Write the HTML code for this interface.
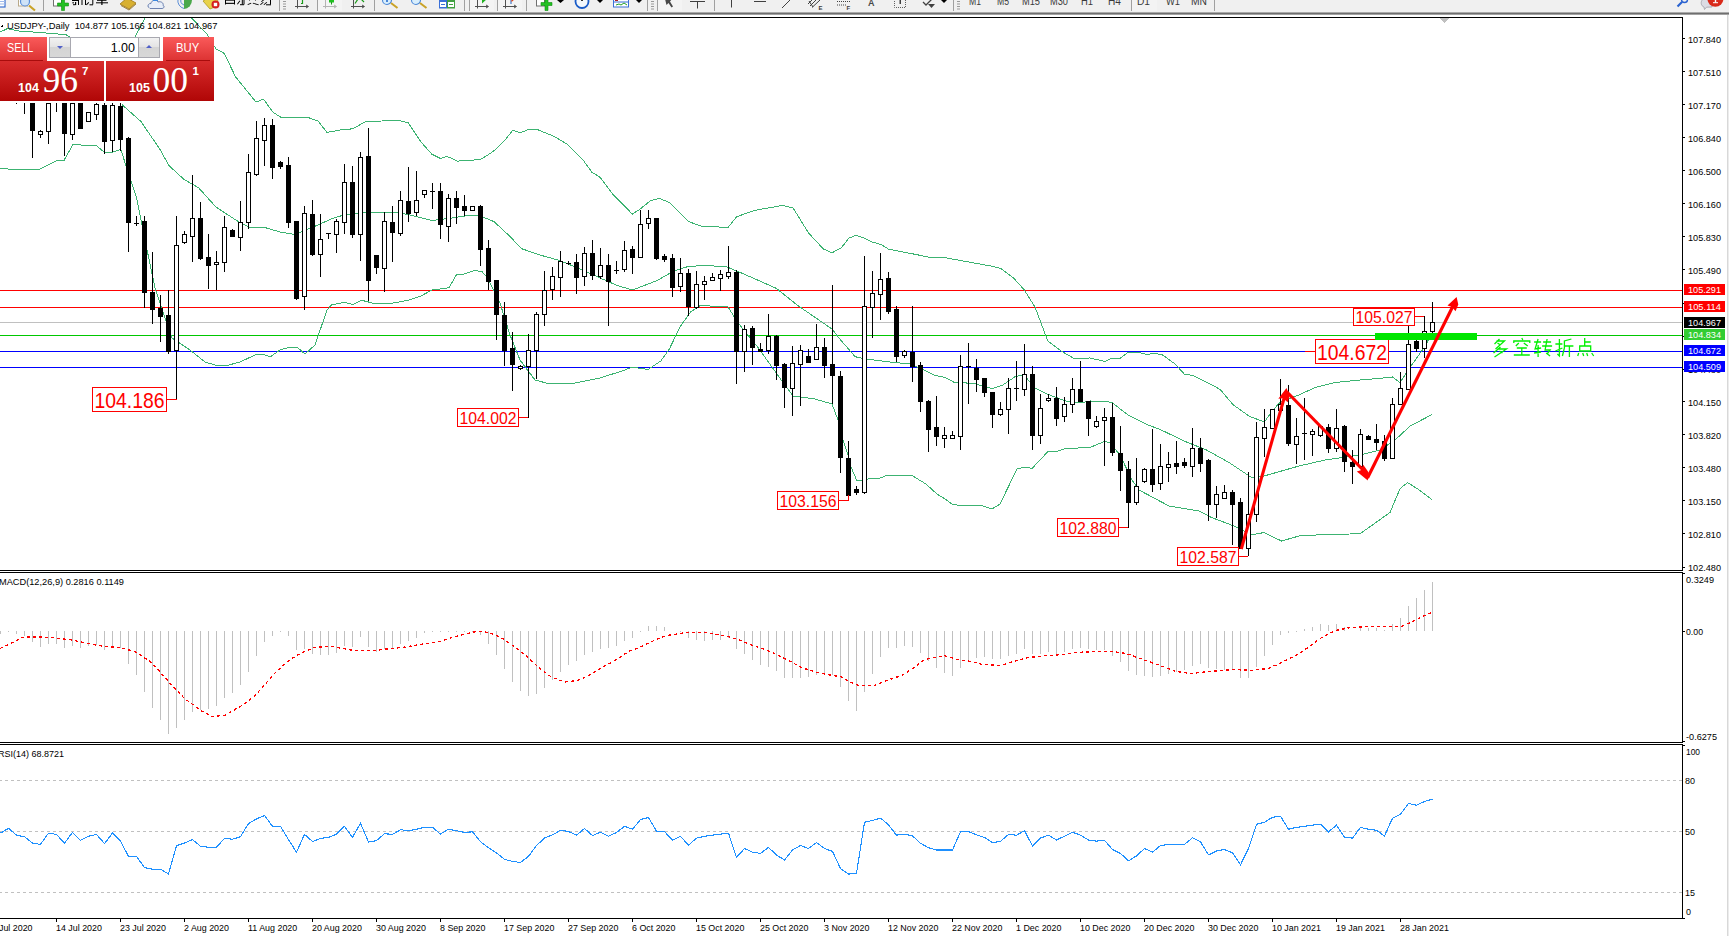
<!DOCTYPE html>
<html><head><meta charset="utf-8">
<style>
html,body{margin:0;padding:0;}
body{width:1729px;height:936px;overflow:hidden;background:#fff;position:relative;font-family:"Liberation Sans",sans-serif;}
#tb{position:absolute;left:0;top:0;width:1729px;height:13px;background:#f0f0f0;}
#tbb{position:absolute;left:0;top:12px;width:1729px;height:3px;background:linear-gradient(#c8c8c8,#6e6e6e 50%,#bdbdbd);}
#rs{position:absolute;left:1727px;top:15px;width:2px;height:921px;background:#ececec;border-left:1px solid #d8d8d8;box-sizing:border-box;}
svg{position:absolute;left:0;top:0;}
.panel{position:absolute;}
</style></head><body>
<div id="tb"></div><div id="tbb"></div><div id="rs"></div>
<svg width="1729" height="936" viewBox="0 0 1729 936" shape-rendering="crispEdges" font-family="Liberation Sans, sans-serif">
<defs>
<clipPath id="cm"><rect x="0" y="18" width="1682" height="552"/></clipPath>
<clipPath id="cmacd"><rect x="0" y="573" width="1682" height="169"/></clipPath>
<clipPath id="crsi"><rect x="0" y="745" width="1682" height="173"/></clipPath>
</defs>
<g clip-path="url(#cm)">
<rect x="0" y="290" width="1682" height="1" fill="#ff0000"/>
<rect x="0" y="307" width="1682" height="1" fill="#ff0000"/>
<rect x="0" y="322" width="1682" height="1" fill="#c0c0c0"/>
<rect x="0" y="335" width="1682" height="1" fill="#00c800"/>
<rect x="0" y="351" width="1682" height="1" fill="#0000ff"/>
<rect x="0" y="367" width="1682" height="1" fill="#0000ff"/>
<polyline points="0.0,32.0 7.5,28.6 18.7,31.0 37.4,32.3 65.8,34.6 72.0,38.0 134.0,38.5 136.0,35.0 145.7,17.0 190.6,17.0 207.5,34.8 215.9,48.8 224.3,53.4 235.5,76.8 256.0,102.0 263.5,99.2 273.0,112.3 280.4,117.0 300.0,117.0 308.0,117.5 318.0,121.0 327.0,132.4 340.0,130.0 352.7,128.8 365.5,121.7 397.6,120.3 408.3,122.8 421.0,142.0 432.0,154.3 440.5,158.5 447.0,156.4 457.6,161.1 480.0,159.6 487.5,155.3 495.0,150.0 505.0,140.0 513.0,130.0 520.0,133.0 528.6,129.4 537.0,129.4 553.9,136.3 566.5,143.7 583.4,160.5 591.8,172.1 600.2,177.4 612.8,194.2 625.5,206.8 632.2,214.2 640.2,209.0 650.7,200.5 659.2,198.4 669.7,202.6 688.6,221.6 701.3,226.2 728.0,227.4 736.7,216.7 755.0,210.3 782.7,205.4 793.3,208.2 808.3,232.7 823.2,248.8 831.7,253.0 841.4,247.7 849.0,238.0 856.3,235.3 864.0,238.0 871.5,241.8 881.0,244.5 888.6,249.2 911.0,253.5 932.4,257.8 943.0,257.3 992.2,266.3 1000.8,268.5 1013.6,278.1 1024.2,289.8 1035.0,307.0 1047.8,341.0 1060.6,350.7 1073.5,358.2 1080.0,358.2 1090.0,358.0 1100.0,360.3 1104.6,361.5 1111.6,358.3 1120.2,358.3 1128.3,352.2 1138.2,352.2 1146.3,354.3 1155.5,353.5 1162.5,354.9 1175.2,364.1 1184.4,374.2 1192.5,375.3 1209.9,383.8 1220.3,389.6 1233.0,404.6 1249.2,416.2 1264.3,422.0 1272.4,411.0 1280.5,401.7 1300.0,394.5 1315.0,387.5 1335.0,382.5 1360.0,380.0 1375.0,378.8 1392.5,377.0 1400.0,382.5 1410.0,367.5 1425.0,346.2 1432.0,333.0" fill="none" stroke="#3cb371" stroke-width="1" />
<polyline points="121.8,104.5 141.0,121.6 160.0,149.4 168.8,165.4 183.8,179.3 198.7,187.9 216.0,207.1 237.4,221.0 250.0,227.5 263.0,227.0 280.0,232.0 295.0,234.6 312.0,227.5 331.4,219.0 344.4,214.7 363.5,212.6 397.6,212.1 408.3,214.7 432.0,220.5 449.0,218.4 470.5,215.2 481.0,216.2 494.0,221.6 509.0,235.5 521.7,248.7 538.8,254.7 560.2,260.7 581.6,269.7 603.0,279.3 617.8,285.7 632.8,290.0 648.0,284.0 656.5,280.8 673.6,271.2 686.5,267.0 703.5,265.2 727.0,267.0 740.0,272.3 776.2,288.3 797.6,305.4 831.8,328.9 840.3,339.6 855.2,356.7 864.0,358.8 890.0,362.0 910.0,364.0 921.7,368.9 934.5,375.3 945.2,377.4 953.7,382.1 964.4,382.8 975.0,383.8 992.2,388.5 1002.9,384.9 1015.7,376.3 1024.2,375.3 1035.0,388.0 1045.6,393.4 1064.9,400.9 1080.0,403.0 1090.0,401.0 1100.0,401.1 1111.6,402.3 1128.9,415.6 1146.3,424.3 1161.3,430.0 1184.0,441.0 1206.5,450.0 1229.0,462.5 1251.5,477.5 1264.0,476.0 1299.0,466.0 1325.0,460.0 1342.5,457.5 1360.0,455.0 1380.0,450.0 1395.0,440.0 1410.0,426.2 1432.0,414.5" fill="none" stroke="#3cb371" stroke-width="1" />
<polyline points="0.0,168.6 21.4,169.7 38.5,169.7 57.8,160.1 64.2,160.1 72.8,144.7 96.3,145.6 104.8,152.6 113.4,152.0 120.8,149.4 126.2,166.5 136.9,198.6 137.0,200.0 145.0,240.0 155.0,288.0 165.0,318.0 172.0,338.0 178.0,342.0 190.0,350.0 205.0,362.0 215.0,365.0 225.0,366.0 240.0,362.0 255.0,355.0 263.0,354.0 270.0,357.0 280.0,350.0 290.0,347.0 298.0,348.0 305.0,354.0 315.0,345.0 327.0,310.0 331.4,305.0 344.4,302.3 352.7,304.5 361.3,300.2 374.0,303.4 391.4,303.4 408.3,300.2 421.0,296.0 429.7,291.2 432.0,290.0 449.0,287.8 456.6,274.4 464.0,274.0 474.7,270.3 482.2,271.8 487.6,278.2 500.0,303.0 510.0,335.0 520.0,360.0 535.0,380.0 550.0,384.0 575.0,383.0 600.0,378.0 625.0,370.0 632.0,367.0 648.0,369.5 660.8,361.0 669.4,349.0 680.0,326.8 690.7,311.8 700.4,305.4 716.4,306.4 728.0,307.0 737.8,322.5 758.0,347.5 783.0,382.5 793.0,396.0 815.0,399.0 832.0,404.0 838.0,420.0 843.0,440.0 848.0,455.0 851.0,467.0 857.0,481.0 862.0,480.0 868.0,479.0 880.0,478.0 888.0,475.0 893.0,475.0 913.0,476.0 916.0,478.0 926.0,484.0 937.0,494.0 945.0,499.0 952.0,504.0 957.0,505.0 980.0,505.0 992.0,509.0 1000.0,504.0 1017.0,469.0 1025.0,467.0 1032.0,468.5 1048.0,451.5 1055.0,452.0 1066.0,448.5 1090.0,447.5 1105.0,441.2 1110.0,443.0 1120.0,455.0 1132.0,480.0 1139.0,490.0 1169.0,506.0 1199.0,511.0 1211.5,517.5 1234.0,526.0 1251.5,535.0 1264.0,532.5 1281.5,541.0 1299.0,536.0 1325.0,534.5 1360.0,533.8 1390.0,512.5 1400.0,488.8 1407.5,482.5 1417.5,488.8 1432.0,499.5" fill="none" stroke="#3cb371" stroke-width="1" />
<g fill="#000"><rect x="16" y="103" width="1" height="1"/><rect x="24" y="103" width="1" height="11"/><rect x="32" y="103" width="1" height="55"/><rect x="30" y="103" width="5" height="28"/><rect x="40" y="130" width="1" height="8"/><rect x="38" y="131" width="5" height="4"/><rect x="39" y="132" width="3" height="2" fill="#fff"/><rect x="48" y="103" width="1" height="41"/><rect x="46" y="103" width="5" height="29"/><rect x="47" y="104" width="3" height="27" fill="#fff"/><rect x="56" y="103" width="1" height="9"/><rect x="64" y="103" width="1" height="53"/><rect x="62" y="103" width="5" height="31"/><rect x="72" y="103" width="1" height="37"/><rect x="70" y="103" width="5" height="32"/><rect x="71" y="104" width="3" height="30" fill="#fff"/><rect x="80" y="103" width="1" height="26"/><rect x="78" y="103" width="5" height="26"/><rect x="88" y="112" width="1" height="10"/><rect x="86" y="112" width="5" height="10"/><rect x="87" y="113" width="3" height="8" fill="#fff"/><rect x="96" y="103" width="1" height="17"/><rect x="94" y="104" width="5" height="11"/><rect x="95" y="105" width="3" height="9" fill="#fff"/><rect x="104" y="103" width="1" height="51"/><rect x="102" y="105" width="5" height="37"/><rect x="112" y="103" width="1" height="49"/><rect x="110" y="105" width="5" height="36"/><rect x="111" y="106" width="3" height="34" fill="#fff"/><rect x="120" y="103" width="1" height="48"/><rect x="118" y="106" width="5" height="34"/><rect x="128" y="137" width="1" height="115"/><rect x="126" y="138" width="5" height="85"/><rect x="136" y="216" width="1" height="10"/><rect x="134" y="223" width="5" height="1"/><rect x="144" y="216" width="1" height="92"/><rect x="142" y="221" width="5" height="72"/><rect x="152" y="252" width="1" height="72"/><rect x="150" y="292" width="5" height="18"/><rect x="160" y="295" width="1" height="47"/><rect x="158" y="308" width="5" height="9"/><rect x="168" y="290" width="1" height="64"/><rect x="166" y="315" width="5" height="37"/><rect x="176" y="216" width="1" height="183"/><rect x="174" y="245" width="5" height="106"/><rect x="175" y="246" width="3" height="104" fill="#fff"/><rect x="184" y="231" width="1" height="13"/><rect x="182" y="234" width="5" height="9"/><rect x="183" y="235" width="3" height="7" fill="#fff"/><rect x="192" y="175" width="1" height="87"/><rect x="190" y="218" width="5" height="19"/><rect x="191" y="219" width="3" height="17" fill="#fff"/><rect x="200" y="202" width="1" height="58"/><rect x="198" y="218" width="5" height="41"/><rect x="208" y="234" width="1" height="55"/><rect x="206" y="257" width="5" height="9"/><rect x="216" y="251" width="1" height="39"/><rect x="214" y="262" width="5" height="3"/><rect x="215" y="263" width="3" height="1" fill="#fff"/><rect x="224" y="216" width="1" height="56"/><rect x="222" y="227" width="5" height="36"/><rect x="223" y="228" width="3" height="34" fill="#fff"/><rect x="232" y="229" width="1" height="8"/><rect x="230" y="230" width="5" height="7"/><rect x="240" y="201" width="1" height="50"/><rect x="238" y="222" width="5" height="16"/><rect x="239" y="223" width="3" height="14" fill="#fff"/><rect x="248" y="154" width="1" height="75"/><rect x="246" y="172" width="5" height="51"/><rect x="247" y="173" width="3" height="49" fill="#fff"/><rect x="256" y="121" width="1" height="55"/><rect x="254" y="138" width="5" height="37"/><rect x="255" y="139" width="3" height="35" fill="#fff"/><rect x="264" y="118" width="1" height="48"/><rect x="262" y="125" width="5" height="16"/><rect x="263" y="126" width="3" height="14" fill="#fff"/><rect x="272" y="119" width="1" height="60"/><rect x="270" y="125" width="5" height="43"/><rect x="280" y="161" width="1" height="8"/><rect x="278" y="162" width="5" height="5"/><rect x="288" y="157" width="1" height="71"/><rect x="286" y="165" width="5" height="58"/><rect x="296" y="221" width="1" height="79"/><rect x="294" y="221" width="5" height="78"/><rect x="304" y="206" width="1" height="104"/><rect x="302" y="213" width="5" height="84"/><rect x="303" y="214" width="3" height="82" fill="#fff"/><rect x="312" y="200" width="1" height="56"/><rect x="310" y="214" width="5" height="41"/><rect x="320" y="214" width="1" height="63"/><rect x="318" y="239" width="5" height="16"/><rect x="319" y="240" width="3" height="14" fill="#fff"/><rect x="328" y="233" width="1" height="6"/><rect x="326" y="233" width="5" height="1"/><rect x="336" y="219" width="1" height="34"/><rect x="334" y="221" width="5" height="14"/><rect x="335" y="222" width="3" height="12" fill="#fff"/><rect x="344" y="164" width="1" height="70"/><rect x="342" y="182" width="5" height="41"/><rect x="343" y="183" width="3" height="39" fill="#fff"/><rect x="352" y="166" width="1" height="72"/><rect x="350" y="182" width="5" height="53"/><rect x="360" y="152" width="1" height="109"/><rect x="358" y="157" width="5" height="78"/><rect x="359" y="158" width="3" height="76" fill="#fff"/><rect x="368" y="128" width="1" height="173"/><rect x="366" y="156" width="5" height="125"/><rect x="376" y="255" width="1" height="19"/><rect x="374" y="255" width="5" height="13"/><rect x="384" y="212" width="1" height="80"/><rect x="382" y="221" width="5" height="48"/><rect x="383" y="222" width="3" height="46" fill="#fff"/><rect x="392" y="206" width="1" height="56"/><rect x="390" y="222" width="5" height="11"/><rect x="400" y="191" width="1" height="45"/><rect x="398" y="200" width="5" height="34"/><rect x="399" y="201" width="3" height="32" fill="#fff"/><rect x="408" y="167" width="1" height="55"/><rect x="406" y="201" width="5" height="13"/><rect x="416" y="171" width="1" height="45"/><rect x="414" y="200" width="5" height="13"/><rect x="415" y="201" width="3" height="11" fill="#fff"/><rect x="424" y="190" width="1" height="8"/><rect x="422" y="190" width="5" height="5"/><rect x="423" y="191" width="3" height="3" fill="#fff"/><rect x="432" y="183" width="1" height="26"/><rect x="430" y="191" width="5" height="1"/><rect x="440" y="183" width="1" height="56"/><rect x="438" y="191" width="5" height="34"/><rect x="448" y="194" width="1" height="48"/><rect x="446" y="198" width="5" height="29"/><rect x="447" y="199" width="3" height="27" fill="#fff"/><rect x="456" y="191" width="1" height="33"/><rect x="454" y="198" width="5" height="10"/><rect x="464" y="195" width="1" height="21"/><rect x="462" y="206" width="5" height="5"/><rect x="472" y="206" width="1" height="5"/><rect x="470" y="206" width="5" height="5"/><rect x="471" y="207" width="3" height="3" fill="#fff"/><rect x="480" y="205" width="1" height="61"/><rect x="478" y="206" width="5" height="44"/><rect x="488" y="240" width="1" height="50"/><rect x="486" y="248" width="5" height="34"/><rect x="496" y="280" width="1" height="60"/><rect x="494" y="280" width="5" height="35"/><rect x="504" y="302" width="1" height="64"/><rect x="502" y="315" width="5" height="36"/><rect x="512" y="332" width="1" height="59"/><rect x="510" y="348" width="5" height="17"/><rect x="520" y="365" width="1" height="5"/><rect x="518" y="366" width="5" height="3"/><rect x="519" y="367" width="3" height="1" fill="#fff"/><rect x="528" y="334" width="1" height="84"/><rect x="526" y="350" width="5" height="17"/><rect x="527" y="351" width="3" height="15" fill="#fff"/><rect x="536" y="312" width="1" height="67"/><rect x="534" y="314" width="5" height="37"/><rect x="535" y="315" width="3" height="35" fill="#fff"/><rect x="544" y="271" width="1" height="55"/><rect x="542" y="290" width="5" height="25"/><rect x="543" y="291" width="3" height="23" fill="#fff"/><rect x="552" y="267" width="1" height="33"/><rect x="550" y="276" width="5" height="14"/><rect x="551" y="277" width="3" height="12" fill="#fff"/><rect x="560" y="251" width="1" height="46"/><rect x="558" y="261" width="5" height="17"/><rect x="559" y="262" width="3" height="15" fill="#fff"/><rect x="568" y="261" width="1" height="4"/><rect x="566" y="263" width="5" height="1"/><rect x="576" y="254" width="1" height="40"/><rect x="574" y="262" width="5" height="16"/><rect x="584" y="247" width="1" height="39"/><rect x="582" y="253" width="5" height="24"/><rect x="583" y="254" width="3" height="22" fill="#fff"/><rect x="592" y="240" width="1" height="40"/><rect x="590" y="253" width="5" height="23"/><rect x="600" y="248" width="1" height="31"/><rect x="598" y="265" width="5" height="12"/><rect x="599" y="266" width="3" height="10" fill="#fff"/><rect x="608" y="254" width="1" height="72"/><rect x="606" y="265" width="5" height="17"/><rect x="616" y="261" width="1" height="13"/><rect x="614" y="270" width="5" height="1"/><rect x="624" y="241" width="1" height="31"/><rect x="622" y="250" width="5" height="20"/><rect x="623" y="251" width="3" height="18" fill="#fff"/><rect x="632" y="246" width="1" height="28"/><rect x="630" y="249" width="5" height="9"/><rect x="640" y="210" width="1" height="48"/><rect x="638" y="224" width="5" height="34"/><rect x="639" y="225" width="3" height="32" fill="#fff"/><rect x="648" y="210" width="1" height="19"/><rect x="646" y="218" width="5" height="6"/><rect x="647" y="219" width="3" height="4" fill="#fff"/><rect x="656" y="218" width="1" height="42"/><rect x="654" y="218" width="5" height="41"/><rect x="664" y="254" width="1" height="8"/><rect x="662" y="256" width="5" height="4"/><rect x="672" y="254" width="1" height="43"/><rect x="670" y="258" width="5" height="30"/><rect x="680" y="258" width="1" height="34"/><rect x="678" y="273" width="5" height="14"/><rect x="679" y="274" width="3" height="12" fill="#fff"/><rect x="688" y="269" width="1" height="47"/><rect x="686" y="273" width="5" height="34"/><rect x="696" y="271" width="1" height="38"/><rect x="694" y="284" width="5" height="24"/><rect x="695" y="285" width="3" height="22" fill="#fff"/><rect x="704" y="276" width="1" height="24"/><rect x="702" y="281" width="5" height="4"/><rect x="703" y="282" width="3" height="2" fill="#fff"/><rect x="712" y="273" width="1" height="7"/><rect x="710" y="277" width="5" height="4"/><rect x="711" y="278" width="3" height="2" fill="#fff"/><rect x="720" y="270" width="1" height="21"/><rect x="718" y="274" width="5" height="5"/><rect x="719" y="275" width="3" height="3" fill="#fff"/><rect x="728" y="246" width="1" height="33"/><rect x="726" y="272" width="5" height="5"/><rect x="727" y="273" width="3" height="3" fill="#fff"/><rect x="736" y="270" width="1" height="114"/><rect x="734" y="272" width="5" height="80"/><rect x="744" y="325" width="1" height="47"/><rect x="742" y="329" width="5" height="23"/><rect x="743" y="330" width="3" height="21" fill="#fff"/><rect x="752" y="326" width="1" height="39"/><rect x="750" y="328" width="5" height="20"/><rect x="760" y="343" width="1" height="8"/><rect x="758" y="349" width="5" height="3"/><rect x="768" y="314" width="1" height="40"/><rect x="766" y="336" width="5" height="15"/><rect x="767" y="337" width="3" height="13" fill="#fff"/><rect x="776" y="335" width="1" height="45"/><rect x="774" y="336" width="5" height="30"/><rect x="784" y="363" width="1" height="45"/><rect x="782" y="364" width="5" height="24"/><rect x="792" y="346" width="1" height="70"/><rect x="790" y="363" width="5" height="26"/><rect x="791" y="364" width="3" height="24" fill="#fff"/><rect x="800" y="345" width="1" height="61"/><rect x="798" y="350" width="5" height="15"/><rect x="799" y="351" width="3" height="13" fill="#fff"/><rect x="808" y="349" width="1" height="14"/><rect x="806" y="356" width="5" height="7"/><rect x="816" y="324" width="1" height="36"/><rect x="814" y="347" width="5" height="13"/><rect x="815" y="348" width="3" height="11" fill="#fff"/><rect x="824" y="338" width="1" height="40"/><rect x="822" y="347" width="5" height="19"/><rect x="832" y="285" width="1" height="119"/><rect x="830" y="364" width="5" height="12"/><rect x="840" y="371" width="1" height="102"/><rect x="838" y="376" width="5" height="82"/><rect x="848" y="441" width="1" height="59"/><rect x="846" y="458" width="5" height="38"/><rect x="856" y="486" width="1" height="9"/><rect x="854" y="489" width="5" height="4"/><rect x="864" y="256" width="1" height="238"/><rect x="862" y="306" width="5" height="187"/><rect x="863" y="307" width="3" height="185" fill="#fff"/><rect x="872" y="271" width="1" height="67"/><rect x="870" y="293" width="5" height="15"/><rect x="871" y="294" width="3" height="13" fill="#fff"/><rect x="880" y="253" width="1" height="67"/><rect x="878" y="279" width="5" height="16"/><rect x="879" y="280" width="3" height="14" fill="#fff"/><rect x="888" y="272" width="1" height="42"/><rect x="886" y="278" width="5" height="34"/><rect x="896" y="306" width="1" height="56"/><rect x="894" y="309" width="5" height="48"/><rect x="904" y="350" width="1" height="8"/><rect x="902" y="351" width="5" height="5"/><rect x="903" y="352" width="3" height="3" fill="#fff"/><rect x="912" y="306" width="1" height="76"/><rect x="910" y="352" width="5" height="15"/><rect x="920" y="362" width="1" height="50"/><rect x="918" y="365" width="5" height="37"/><rect x="928" y="400" width="1" height="52"/><rect x="926" y="401" width="5" height="29"/><rect x="936" y="396" width="1" height="50"/><rect x="934" y="427" width="5" height="10"/><rect x="944" y="427" width="1" height="21"/><rect x="942" y="435" width="5" height="4"/><rect x="943" y="436" width="3" height="2" fill="#fff"/><rect x="952" y="431" width="1" height="7"/><rect x="950" y="435" width="5" height="4"/><rect x="951" y="436" width="3" height="2" fill="#fff"/><rect x="960" y="355" width="1" height="95"/><rect x="958" y="366" width="5" height="71"/><rect x="959" y="367" width="3" height="69" fill="#fff"/><rect x="968" y="343" width="1" height="61"/><rect x="966" y="366" width="5" height="1"/><rect x="976" y="359" width="1" height="33"/><rect x="974" y="368" width="5" height="12"/><rect x="984" y="378" width="1" height="19"/><rect x="982" y="378" width="5" height="15"/><rect x="992" y="392" width="1" height="36"/><rect x="990" y="392" width="5" height="23"/><rect x="1000" y="402" width="1" height="14"/><rect x="998" y="409" width="5" height="6"/><rect x="999" y="410" width="3" height="4" fill="#fff"/><rect x="1008" y="378" width="1" height="56"/><rect x="1006" y="388" width="5" height="22"/><rect x="1007" y="389" width="3" height="20" fill="#fff"/><rect x="1016" y="361" width="1" height="40"/><rect x="1014" y="388" width="5" height="1"/><rect x="1024" y="344" width="1" height="52"/><rect x="1022" y="374" width="5" height="16"/><rect x="1023" y="375" width="3" height="14" fill="#fff"/><rect x="1032" y="366" width="1" height="84"/><rect x="1030" y="374" width="5" height="62"/><rect x="1040" y="394" width="1" height="50"/><rect x="1038" y="408" width="5" height="28"/><rect x="1039" y="409" width="3" height="26" fill="#fff"/><rect x="1048" y="394" width="1" height="8"/><rect x="1046" y="398" width="5" height="3"/><rect x="1047" y="399" width="3" height="1" fill="#fff"/><rect x="1056" y="387" width="1" height="39"/><rect x="1054" y="398" width="5" height="21"/><rect x="1064" y="397" width="1" height="25"/><rect x="1062" y="404" width="5" height="13"/><rect x="1063" y="405" width="3" height="11" fill="#fff"/><rect x="1072" y="378" width="1" height="35"/><rect x="1070" y="389" width="5" height="16"/><rect x="1071" y="390" width="3" height="14" fill="#fff"/><rect x="1080" y="361" width="1" height="40"/><rect x="1078" y="389" width="5" height="13"/><rect x="1088" y="401" width="1" height="35"/><rect x="1086" y="401" width="5" height="18"/><rect x="1096" y="416" width="1" height="12"/><rect x="1094" y="421" width="5" height="6"/><rect x="1095" y="422" width="3" height="4" fill="#fff"/><rect x="1104" y="408" width="1" height="58"/><rect x="1102" y="417" width="5" height="4"/><rect x="1103" y="418" width="3" height="2" fill="#fff"/><rect x="1112" y="403" width="1" height="53"/><rect x="1110" y="417" width="5" height="36"/><rect x="1120" y="426" width="1" height="65"/><rect x="1118" y="453" width="5" height="18"/><rect x="1128" y="461" width="1" height="67"/><rect x="1126" y="469" width="5" height="34"/><rect x="1136" y="458" width="1" height="47"/><rect x="1134" y="486" width="5" height="17"/><rect x="1135" y="487" width="3" height="15" fill="#fff"/><rect x="1144" y="468" width="1" height="15"/><rect x="1142" y="469" width="5" height="13"/><rect x="1143" y="470" width="3" height="11" fill="#fff"/><rect x="1152" y="429" width="1" height="63"/><rect x="1150" y="469" width="5" height="16"/><rect x="1160" y="444" width="1" height="46"/><rect x="1158" y="466" width="5" height="18"/><rect x="1159" y="467" width="3" height="16" fill="#fff"/><rect x="1168" y="452" width="1" height="30"/><rect x="1166" y="464" width="5" height="4"/><rect x="1167" y="465" width="3" height="2" fill="#fff"/><rect x="1176" y="441" width="1" height="33"/><rect x="1174" y="463" width="5" height="4"/><rect x="1184" y="458" width="1" height="10"/><rect x="1182" y="462" width="5" height="4"/><rect x="1192" y="428" width="1" height="49"/><rect x="1190" y="448" width="5" height="19"/><rect x="1191" y="449" width="3" height="17" fill="#fff"/><rect x="1200" y="438" width="1" height="34"/><rect x="1198" y="448" width="5" height="16"/><rect x="1208" y="459" width="1" height="62"/><rect x="1206" y="460" width="5" height="45"/><rect x="1216" y="486" width="1" height="32"/><rect x="1214" y="494" width="5" height="11"/><rect x="1215" y="495" width="3" height="9" fill="#fff"/><rect x="1224" y="485" width="1" height="13"/><rect x="1222" y="492" width="5" height="7"/><rect x="1223" y="493" width="3" height="5" fill="#fff"/><rect x="1232" y="490" width="1" height="55"/><rect x="1230" y="492" width="5" height="13"/><rect x="1240" y="498" width="1" height="50"/><rect x="1238" y="502" width="5" height="47"/><rect x="1248" y="472" width="1" height="84"/><rect x="1246" y="514" width="5" height="35"/><rect x="1247" y="515" width="3" height="33" fill="#fff"/><rect x="1256" y="422" width="1" height="100"/><rect x="1254" y="437" width="5" height="78"/><rect x="1255" y="438" width="3" height="76" fill="#fff"/><rect x="1264" y="409" width="1" height="48"/><rect x="1262" y="427" width="5" height="12"/><rect x="1263" y="428" width="3" height="10" fill="#fff"/><rect x="1272" y="409" width="1" height="19"/><rect x="1270" y="409" width="5" height="20"/><rect x="1271" y="410" width="3" height="18" fill="#fff"/><rect x="1280" y="379" width="1" height="31"/><rect x="1278" y="404" width="5" height="7"/><rect x="1279" y="405" width="3" height="5" fill="#fff"/><rect x="1288" y="385" width="1" height="61"/><rect x="1286" y="405" width="5" height="39"/><rect x="1296" y="418" width="1" height="46"/><rect x="1294" y="436" width="5" height="9"/><rect x="1295" y="437" width="3" height="7" fill="#fff"/><rect x="1304" y="398" width="1" height="62"/><rect x="1302" y="433" width="5" height="1"/><rect x="1312" y="429" width="1" height="27"/><rect x="1310" y="431" width="5" height="4"/><rect x="1311" y="432" width="3" height="2" fill="#fff"/><rect x="1320" y="425" width="1" height="12"/><rect x="1318" y="426" width="5" height="10"/><rect x="1319" y="427" width="3" height="8" fill="#fff"/><rect x="1328" y="424" width="1" height="29"/><rect x="1326" y="427" width="5" height="22"/><rect x="1336" y="409" width="1" height="43"/><rect x="1334" y="428" width="5" height="21"/><rect x="1335" y="429" width="3" height="19" fill="#fff"/><rect x="1344" y="425" width="1" height="47"/><rect x="1342" y="426" width="5" height="36"/><rect x="1352" y="450" width="1" height="34"/><rect x="1350" y="462" width="5" height="5"/><rect x="1360" y="429" width="1" height="38"/><rect x="1358" y="434" width="5" height="33"/><rect x="1359" y="435" width="3" height="31" fill="#fff"/><rect x="1368" y="435" width="1" height="5"/><rect x="1366" y="436" width="5" height="4"/><rect x="1376" y="424" width="1" height="26"/><rect x="1374" y="439" width="5" height="4"/><rect x="1384" y="435" width="1" height="26"/><rect x="1382" y="441" width="5" height="18"/><rect x="1392" y="398" width="1" height="61"/><rect x="1390" y="404" width="5" height="55"/><rect x="1391" y="405" width="3" height="53" fill="#fff"/><rect x="1400" y="372" width="1" height="32"/><rect x="1398" y="388" width="5" height="17"/><rect x="1399" y="389" width="3" height="15" fill="#fff"/><rect x="1408" y="326" width="1" height="63"/><rect x="1406" y="344" width="5" height="46"/><rect x="1407" y="345" width="3" height="44" fill="#fff"/><rect x="1416" y="340" width="1" height="12"/><rect x="1414" y="341" width="5" height="8"/><rect x="1424" y="316" width="1" height="42"/><rect x="1422" y="331" width="5" height="18"/><rect x="1423" y="332" width="3" height="16" fill="#fff"/><rect x="1432" y="302" width="1" height="34"/><rect x="1430" y="322" width="5" height="10"/><rect x="1431" y="323" width="3" height="8" fill="#fff"/></g>
</g>
<g clip-path="url(#cmacd)">
<g fill="#c0c0c0"><rect x="0" y="631" width="1" height="3"/><rect x="8" y="631" width="1" height="1"/><rect x="16" y="631" width="1" height="3"/><rect x="24" y="631" width="1" height="5"/><rect x="32" y="631" width="1" height="11"/><rect x="40" y="631" width="1" height="16"/><rect x="48" y="631" width="1" height="13"/><rect x="56" y="631" width="1" height="13"/><rect x="64" y="631" width="1" height="17"/><rect x="72" y="631" width="1" height="15"/><rect x="80" y="631" width="1" height="17"/><rect x="88" y="631" width="1" height="15"/><rect x="96" y="631" width="1" height="14"/><rect x="104" y="631" width="1" height="19"/><rect x="112" y="631" width="1" height="17"/><rect x="120" y="631" width="1" height="17"/><rect x="128" y="631" width="1" height="33"/><rect x="136" y="631" width="1" height="44"/><rect x="144" y="631" width="1" height="61"/><rect x="152" y="631" width="1" height="77"/><rect x="160" y="631" width="1" height="89"/><rect x="168" y="631" width="1" height="103"/><rect x="176" y="631" width="1" height="97"/><rect x="184" y="631" width="1" height="89"/><rect x="192" y="631" width="1" height="81"/><rect x="200" y="631" width="1" height="79"/><rect x="208" y="631" width="1" height="78"/><rect x="216" y="631" width="1" height="75"/><rect x="224" y="631" width="1" height="67"/><rect x="232" y="631" width="1" height="62"/><rect x="240" y="631" width="1" height="54"/><rect x="248" y="631" width="1" height="41"/><rect x="256" y="631" width="1" height="25"/><rect x="264" y="631" width="1" height="11"/><rect x="272" y="631" width="1" height="5"/><rect x="280" y="631" width="1" height="1"/><rect x="288" y="631" width="1" height="5"/><rect x="296" y="631" width="1" height="19"/><rect x="304" y="631" width="1" height="18"/><rect x="312" y="631" width="1" height="23"/><rect x="320" y="631" width="1" height="24"/><rect x="328" y="631" width="1" height="24"/><rect x="336" y="631" width="1" height="22"/><rect x="344" y="631" width="1" height="15"/><rect x="352" y="631" width="1" height="16"/><rect x="360" y="631" width="1" height="6"/><rect x="368" y="631" width="1" height="16"/><rect x="376" y="631" width="1" height="21"/><rect x="384" y="631" width="1" height="18"/><rect x="392" y="631" width="1" height="17"/><rect x="400" y="631" width="1" height="13"/><rect x="408" y="631" width="1" height="10"/><rect x="416" y="631" width="1" height="7"/><rect x="424" y="631" width="1" height="2"/><rect x="432" y="631" width="1" height="1"/><rect x="440" y="631" width="1" height="1"/><rect x="448" y="631" width="1" height="1"/><rect x="456" y="631" width="1" height="1"/><rect x="464" y="631" width="1" height="1"/><rect x="472" y="631" width="1" height="1"/><rect x="480" y="631" width="1" height="4"/><rect x="488" y="631" width="1" height="13"/><rect x="496" y="631" width="1" height="24"/><rect x="504" y="631" width="1" height="38"/><rect x="512" y="631" width="1" height="51"/><rect x="520" y="631" width="1" height="60"/><rect x="528" y="631" width="1" height="65"/><rect x="536" y="631" width="1" height="63"/><rect x="544" y="631" width="1" height="57"/><rect x="552" y="631" width="1" height="49"/><rect x="560" y="631" width="1" height="41"/><rect x="568" y="631" width="1" height="34"/><rect x="576" y="631" width="1" height="30"/><rect x="584" y="631" width="1" height="24"/><rect x="592" y="631" width="1" height="21"/><rect x="600" y="631" width="1" height="18"/><rect x="608" y="631" width="1" height="17"/><rect x="616" y="631" width="1" height="15"/><rect x="624" y="631" width="1" height="10"/><rect x="632" y="631" width="1" height="7"/><rect x="640" y="631" width="1" height="1"/><rect x="648" y="626" width="1" height="5"/><rect x="656" y="626" width="1" height="5"/><rect x="664" y="627" width="1" height="4"/><rect x="680" y="631" width="1" height="1"/><rect x="688" y="631" width="1" height="7"/><rect x="696" y="631" width="1" height="9"/><rect x="704" y="631" width="1" height="10"/><rect x="712" y="631" width="1" height="9"/><rect x="720" y="631" width="1" height="9"/><rect x="728" y="631" width="1" height="7"/><rect x="736" y="631" width="1" height="18"/><rect x="744" y="631" width="1" height="23"/><rect x="752" y="631" width="1" height="29"/><rect x="760" y="631" width="1" height="34"/><rect x="768" y="631" width="1" height="36"/><rect x="776" y="631" width="1" height="40"/><rect x="784" y="631" width="1" height="47"/><rect x="792" y="631" width="1" height="47"/><rect x="800" y="631" width="1" height="47"/><rect x="808" y="631" width="1" height="46"/><rect x="816" y="631" width="1" height="44"/><rect x="824" y="631" width="1" height="44"/><rect x="832" y="631" width="1" height="44"/><rect x="840" y="631" width="1" height="56"/><rect x="848" y="631" width="1" height="70"/><rect x="856" y="631" width="1" height="80"/><rect x="864" y="631" width="1" height="61"/><rect x="872" y="631" width="1" height="43"/><rect x="880" y="631" width="1" height="26"/><rect x="888" y="631" width="1" height="17"/><rect x="896" y="631" width="1" height="17"/><rect x="904" y="631" width="1" height="15"/><rect x="912" y="631" width="1" height="16"/><rect x="920" y="631" width="1" height="22"/><rect x="928" y="631" width="1" height="30"/><rect x="936" y="631" width="1" height="37"/><rect x="944" y="631" width="1" height="42"/><rect x="952" y="631" width="1" height="45"/><rect x="960" y="631" width="1" height="37"/><rect x="968" y="631" width="1" height="30"/><rect x="976" y="631" width="1" height="27"/><rect x="984" y="631" width="1" height="26"/><rect x="992" y="631" width="1" height="28"/><rect x="1000" y="631" width="1" height="28"/><rect x="1008" y="631" width="1" height="25"/><rect x="1016" y="631" width="1" height="23"/><rect x="1024" y="631" width="1" height="18"/><rect x="1032" y="631" width="1" height="23"/><rect x="1040" y="631" width="1" height="23"/><rect x="1048" y="631" width="1" height="21"/><rect x="1056" y="631" width="1" height="23"/><rect x="1064" y="631" width="1" height="21"/><rect x="1072" y="631" width="1" height="18"/><rect x="1080" y="631" width="1" height="17"/><rect x="1088" y="631" width="1" height="18"/><rect x="1096" y="631" width="1" height="19"/><rect x="1104" y="631" width="1" height="19"/><rect x="1112" y="631" width="1" height="25"/><rect x="1120" y="631" width="1" height="31"/><rect x="1128" y="631" width="1" height="40"/><rect x="1136" y="631" width="1" height="44"/><rect x="1144" y="631" width="1" height="45"/><rect x="1152" y="631" width="1" height="46"/><rect x="1160" y="631" width="1" height="45"/><rect x="1168" y="631" width="1" height="43"/><rect x="1176" y="631" width="1" height="41"/><rect x="1184" y="631" width="1" height="39"/><rect x="1192" y="631" width="1" height="35"/><rect x="1200" y="631" width="1" height="33"/><rect x="1208" y="631" width="1" height="37"/><rect x="1216" y="631" width="1" height="38"/><rect x="1224" y="631" width="1" height="39"/><rect x="1232" y="631" width="1" height="38"/><rect x="1240" y="631" width="1" height="47"/><rect x="1248" y="631" width="1" height="47"/><rect x="1256" y="631" width="1" height="36"/><rect x="1264" y="631" width="1" height="25"/><rect x="1272" y="631" width="1" height="14"/><rect x="1280" y="631" width="1" height="4"/><rect x="1288" y="631" width="1" height="2"/><rect x="1296" y="631" width="1" height="1"/><rect x="1304" y="629" width="1" height="2"/><rect x="1312" y="627" width="1" height="4"/><rect x="1320" y="624" width="1" height="7"/><rect x="1328" y="625" width="1" height="6"/><rect x="1336" y="624" width="1" height="7"/><rect x="1344" y="627" width="1" height="4"/><rect x="1360" y="628" width="1" height="3"/><rect x="1368" y="628" width="1" height="3"/><rect x="1376" y="628" width="1" height="3"/><rect x="1384" y="630" width="1" height="1"/><rect x="1392" y="624" width="1" height="7"/><rect x="1400" y="618" width="1" height="13"/><rect x="1408" y="606" width="1" height="25"/><rect x="1416" y="598" width="1" height="33"/><rect x="1424" y="590" width="1" height="41"/><rect x="1432" y="582" width="1" height="49"/></g><polyline points="0.0,648.5 24.0,637.0 40.0,637.0 56.0,638.0 72.0,640.0 88.0,643.5 104.0,646.5 120.0,647.5 136.0,652.0 152.0,663.0 168.0,681.0 184.0,698.0 200.0,710.0 212.0,716.4 224.8,715.4 242.8,705.0 255.6,694.9 276.0,671.8 289.0,660.3 301.7,652.6 314.6,647.4 332.5,646.4 340.0,648.0 353.0,650.4 376.0,650.6 382.5,649.4 404.0,647.2 422.0,644.2 427.2,643.6 440.7,641.3 452.2,637.4 463.7,634.4 476.6,631.4 488.1,632.3 500.9,637.4 513.7,646.2 526.6,656.4 539.4,668.0 552.2,677.6 565.0,682.0 577.8,680.5 590.7,674.4 603.5,666.7 616.3,659.6 629.1,651.3 640.0,647.2 650.1,642.3 661.6,637.2 668.0,635.3 687.3,632.4 706.5,632.7 725.7,635.9 738.6,639.7 751.4,644.9 764.2,649.4 777.0,654.5 789.8,661.3 802.7,668.0 815.5,672.0 828.3,674.7 841.1,676.9 848.0,681.2 858.3,685.4 873.6,685.6 886.5,680.5 901.8,675.4 912.1,669.0 924.9,659.4 944.2,655.5 957.0,659.4 969.8,661.3 982.6,664.5 1001.8,665.4 1012.1,661.9 1027.5,657.7 1046.7,655.5 1064.0,654.5 1076.7,652.3 1111.3,651.3 1126.7,653.6 1136.9,657.4 1149.7,661.9 1162.6,666.4 1175.4,671.3 1190.8,673.5 1201.0,672.4 1220.3,670.5 1233.0,669.6 1252.3,670.3 1268.0,668.5 1280.8,663.0 1298.8,654.0 1310.3,645.7 1321.8,637.4 1334.7,630.7 1351.3,627.4 1370.6,626.5 1401.3,626.5 1411.6,622.0 1421.8,616.9 1432.0,612.4" fill="none" stroke="#ff0000" stroke-width="1.3" stroke-dasharray="3,3"/>
</g>
<g clip-path="url(#crsi)">
<line x1="0" y1="780.5" x2="1682" y2="780.5" stroke="#c0c0c0" stroke-dasharray="3,3" stroke-dashoffset="1"/><line x1="0" y1="831.5" x2="1682" y2="831.5" stroke="#c0c0c0" stroke-dasharray="3,3" stroke-dashoffset="1"/><line x1="0" y1="892.5" x2="1682" y2="892.5" stroke="#c0c0c0" stroke-dasharray="3,3" stroke-dashoffset="1"/><polyline points="0.5,833.1 8.5,828.3 16.5,835.2 24.5,836.7 32.5,843.2 40.5,844.4 48.5,833.1 56.5,834.4 64.5,843.2 72.5,832.3 80.5,840.4 88.5,836.3 96.5,834.4 104.5,843.6 112.5,833.1 120.5,841.2 128.5,856.4 136.5,856.4 144.5,867.6 152.5,869.2 160.5,869.2 168.5,874.0 176.5,845.6 184.5,843.1 192.5,839.6 200.5,846.3 208.5,847.2 216.5,847.2 224.5,838.3 232.5,839.2 240.5,836.7 248.5,823.5 256.5,818.9 264.5,815.5 272.5,826.3 280.5,826.3 288.5,839.6 296.5,852.2 304.5,834.4 312.5,841.5 320.5,838.4 328.5,837.4 336.5,834.1 344.5,826.3 352.5,837.4 360.5,823.3 368.5,842.1 376.5,840.6 384.5,833.7 392.5,834.4 400.5,829.7 408.5,830.7 416.5,829.2 424.5,827.3 432.5,827.3 440.5,834.1 448.5,829.2 456.5,830.7 464.5,832.5 472.5,831.8 480.5,841.8 488.5,847.7 496.5,852.9 504.5,859.3 512.5,861.4 520.5,862.5 528.5,856.3 536.5,845.5 544.5,838.1 552.5,834.9 560.5,830.3 568.5,831.5 576.5,835.2 584.5,828.5 592.5,835.6 600.5,832.2 608.5,836.2 616.5,832.5 624.5,826.3 632.5,829.2 640.5,819.6 648.5,817.4 656.5,831.2 664.5,831.5 672.5,840.3 680.5,836.3 688.5,845.2 696.5,838.1 704.5,836.3 712.5,835.2 720.5,834.1 728.5,833.2 736.5,857.4 744.5,848.5 752.5,852.2 760.5,853.4 768.5,847.4 776.5,855.1 784.5,859.9 792.5,850.0 800.5,845.5 808.5,848.5 816.5,842.6 824.5,848.5 832.5,851.4 840.5,868.5 848.5,874.1 856.5,873.4 864.5,822.3 872.5,820.4 880.5,818.1 888.5,824.8 896.5,835.2 904.5,834.1 912.5,835.9 920.5,843.3 928.5,847.7 936.5,850.0 944.5,850.0 952.5,850.0 960.5,831.8 968.5,831.5 976.5,834.9 984.5,837.4 992.5,842.6 1000.5,841.4 1008.5,834.4 1016.5,835.2 1024.5,830.7 1032.5,846.0 1040.5,838.1 1048.5,835.2 1056.5,840.0 1064.5,836.2 1072.5,832.2 1080.5,835.2 1088.5,840.0 1096.5,841.1 1104.5,840.3 1112.5,849.5 1120.5,853.4 1128.5,860.8 1136.5,855.9 1144.5,848.5 1152.5,852.2 1160.5,845.5 1168.5,844.5 1176.5,844.5 1184.5,844.5 1192.5,837.7 1200.5,841.8 1208.5,854.9 1216.5,851.0 1224.5,849.5 1232.5,852.9 1240.5,864.8 1248.5,848.5 1256.5,824.3 1264.5,822.2 1272.5,817.3 1280.5,816.3 1288.5,829.2 1296.5,827.4 1304.5,826.3 1312.5,825.2 1320.5,824.1 1328.5,831.8 1336.5,825.2 1344.5,837.0 1352.5,838.2 1360.5,827.4 1368.5,829.2 1376.5,830.3 1384.5,836.0 1392.5,818.2 1400.5,814.3 1408.5,803.4 1416.5,805.2 1424.5,801.5 1432.5,799.2" fill="none" stroke="#1e90ff" stroke-width="1.1"/>
</g>
<!-- borders -->
<g fill="#000">
<rect x="0" y="17" width="1683" height="1"/>
<rect x="1682" y="17" width="1" height="554"/>
<rect x="0" y="570" width="1683" height="1"/>
<rect x="0" y="572" width="1683" height="1"/>
<rect x="1682" y="572" width="1" height="171"/>
<rect x="0" y="742" width="1683" height="1"/>
<rect x="0" y="744" width="1683" height="1"/>
<rect x="1682" y="744" width="1" height="175"/>
<rect x="0" y="918" width="1683" height="1"/>
</g>
<g fill="#000">
<rect x="1683" y="38" width="2" height="1"/>
<rect x="1683" y="71" width="2" height="1"/>
<rect x="1683" y="104" width="2" height="1"/>
<rect x="1683" y="137" width="2" height="1"/>
<rect x="1683" y="170" width="2" height="1"/>
<rect x="1683" y="203" width="2" height="1"/>
<rect x="1683" y="236" width="2" height="1"/>
<rect x="1683" y="269" width="2" height="1"/>
<rect x="1683" y="303" width="2" height="1"/>
<rect x="1683" y="336" width="2" height="1"/>
<rect x="1683" y="369" width="2" height="1"/>
<rect x="1683" y="401" width="2" height="1"/>
<rect x="1683" y="434" width="2" height="1"/>
<rect x="1683" y="467" width="2" height="1"/>
<rect x="1683" y="500" width="2" height="1"/>
<rect x="1683" y="533" width="2" height="1"/>
<rect x="1683" y="567" width="2" height="1"/>
</g>
<text x="1688" y="42.699999999999996" font-size="9.4" fill="#000" textLength="33" lengthAdjust="spacingAndGlyphs">107.840</text>
<text x="1688" y="75.60000000000001" font-size="9.4" fill="#000" textLength="33" lengthAdjust="spacingAndGlyphs">107.510</text>
<text x="1688" y="108.5" font-size="9.4" fill="#000" textLength="33" lengthAdjust="spacingAndGlyphs">107.170</text>
<text x="1688" y="141.6" font-size="9.4" fill="#000" textLength="33" lengthAdjust="spacingAndGlyphs">106.840</text>
<text x="1688" y="174.70000000000002" font-size="9.4" fill="#000" textLength="33" lengthAdjust="spacingAndGlyphs">106.500</text>
<text x="1688" y="207.9" font-size="9.4" fill="#000" textLength="33" lengthAdjust="spacingAndGlyphs">106.160</text>
<text x="1688" y="240.8" font-size="9.4" fill="#000" textLength="33" lengthAdjust="spacingAndGlyphs">105.830</text>
<text x="1688" y="273.9" font-size="9.4" fill="#000" textLength="33" lengthAdjust="spacingAndGlyphs">105.490</text>
<text x="1688" y="307.4" font-size="9.4" fill="#000" textLength="33" lengthAdjust="spacingAndGlyphs">105.150</text>
<text x="1688" y="340.4" font-size="9.4" fill="#000" textLength="33" lengthAdjust="spacingAndGlyphs">104.810</text>
<text x="1688" y="372.9" font-size="9.4" fill="#000" textLength="33" lengthAdjust="spacingAndGlyphs">104.480</text>
<text x="1688" y="405.9" font-size="9.4" fill="#000" textLength="33" lengthAdjust="spacingAndGlyphs">104.150</text>
<text x="1688" y="438.79999999999995" font-size="9.4" fill="#000" textLength="33" lengthAdjust="spacingAndGlyphs">103.820</text>
<text x="1688" y="471.9" font-size="9.4" fill="#000" textLength="33" lengthAdjust="spacingAndGlyphs">103.480</text>
<text x="1688" y="504.79999999999995" font-size="9.4" fill="#000" textLength="33" lengthAdjust="spacingAndGlyphs">103.150</text>
<text x="1688" y="537.9" font-size="9.4" fill="#000" textLength="33" lengthAdjust="spacingAndGlyphs">102.810</text>
<text x="1688" y="570.9" font-size="9.4" fill="#000" textLength="33" lengthAdjust="spacingAndGlyphs">102.480</text>
<rect x="1684" y="284" width="41" height="11" fill="#ff0000"/>
<text x="1688" y="293" font-size="9.4" fill="#fff" textLength="33" lengthAdjust="spacingAndGlyphs">105.291</text>
<rect x="1684" y="301" width="41" height="11" fill="#ff0000"/>
<text x="1688" y="310" font-size="9.4" fill="#fff" textLength="33" lengthAdjust="spacingAndGlyphs">105.114</text>
<rect x="1684" y="317" width="41" height="11" fill="#000000"/>
<text x="1688" y="326" font-size="9.4" fill="#fff" textLength="33" lengthAdjust="spacingAndGlyphs">104.967</text>
<rect x="1684" y="329" width="41" height="11" fill="#32cd32"/>
<text x="1688" y="338" font-size="9.4" fill="#fff" textLength="33" lengthAdjust="spacingAndGlyphs">104.834</text>
<rect x="1684" y="345" width="41" height="11" fill="#0000ff"/>
<text x="1688" y="354" font-size="9.4" fill="#fff" textLength="33" lengthAdjust="spacingAndGlyphs">104.672</text>
<rect x="1684" y="361" width="41" height="11" fill="#0000ff"/>
<text x="1688" y="370" font-size="9.4" fill="#fff" textLength="33" lengthAdjust="spacingAndGlyphs">104.509</text>
<g fill="#000"><rect x="1683" y="573" width="2" height="1"/><rect x="1683" y="631" width="2" height="1"/><rect x="1683" y="741" width="2" height="1"/></g>
<text x="1686" y="583" font-size="9.4" fill="#000" textLength="28" lengthAdjust="spacingAndGlyphs">0.3249</text>
<text x="1686" y="635" font-size="9.4" fill="#000" textLength="17" lengthAdjust="spacingAndGlyphs">0.00</text>
<text x="1686" y="739.5" font-size="9.4" fill="#000" textLength="31" lengthAdjust="spacingAndGlyphs">-0.6275</text>
<g fill="#000"><rect x="1683" y="745" width="2" height="1"/><rect x="1683" y="918" width="2" height="1"/></g>
<text x="1686" y="755" font-size="9.4" fill="#000" textLength="14" lengthAdjust="spacingAndGlyphs">100</text>
<text x="1685" y="784" font-size="9.4" fill="#000" textLength="10" lengthAdjust="spacingAndGlyphs">80</text>
<text x="1685" y="835" font-size="9.4" fill="#000" textLength="10" lengthAdjust="spacingAndGlyphs">50</text>
<text x="1685" y="896" font-size="9.4" fill="#000" textLength="10" lengthAdjust="spacingAndGlyphs">15</text>
<text x="1686" y="915" font-size="9.4" fill="#000" textLength="5" lengthAdjust="spacingAndGlyphs">0</text>
<g fill="#000">
<rect x="56" y="919" width="1" height="3"/>
<rect x="120" y="919" width="1" height="3"/>
<rect x="184" y="919" width="1" height="3"/>
<rect x="248" y="919" width="1" height="3"/>
<rect x="312" y="919" width="1" height="3"/>
<rect x="376" y="919" width="1" height="3"/>
<rect x="440" y="919" width="1" height="3"/>
<rect x="504" y="919" width="1" height="3"/>
<rect x="568" y="919" width="1" height="3"/>
<rect x="632" y="919" width="1" height="3"/>
<rect x="696" y="919" width="1" height="3"/>
<rect x="760" y="919" width="1" height="3"/>
<rect x="824" y="919" width="1" height="3"/>
<rect x="888" y="919" width="1" height="3"/>
<rect x="952" y="919" width="1" height="3"/>
<rect x="1016" y="919" width="1" height="3"/>
<rect x="1080" y="919" width="1" height="3"/>
<rect x="1144" y="919" width="1" height="3"/>
<rect x="1208" y="919" width="1" height="3"/>
<rect x="1272" y="919" width="1" height="3"/>
<rect x="1336" y="919" width="1" height="3"/>
<rect x="1400" y="919" width="1" height="3"/>
</g>
<text x="-1" y="931" font-size="8.9" fill="#000">Jul 2020</text>
<text x="56" y="931" font-size="8.9" fill="#000">14 Jul 2020</text>
<text x="120" y="931" font-size="8.9" fill="#000">23 Jul 2020</text>
<text x="184" y="931" font-size="8.9" fill="#000">2 Aug 2020</text>
<text x="248" y="931" font-size="8.9" fill="#000">11 Aug 2020</text>
<text x="312" y="931" font-size="8.9" fill="#000">20 Aug 2020</text>
<text x="376" y="931" font-size="8.9" fill="#000">30 Aug 2020</text>
<text x="440" y="931" font-size="8.9" fill="#000">8 Sep 2020</text>
<text x="504" y="931" font-size="8.9" fill="#000">17 Sep 2020</text>
<text x="568" y="931" font-size="8.9" fill="#000">27 Sep 2020</text>
<text x="632" y="931" font-size="8.9" fill="#000">6 Oct 2020</text>
<text x="696" y="931" font-size="8.9" fill="#000">15 Oct 2020</text>
<text x="760" y="931" font-size="8.9" fill="#000">25 Oct 2020</text>
<text x="824" y="931" font-size="8.9" fill="#000">3 Nov 2020</text>
<text x="888" y="931" font-size="8.9" fill="#000">12 Nov 2020</text>
<text x="952" y="931" font-size="8.9" fill="#000">22 Nov 2020</text>
<text x="1016" y="931" font-size="8.9" fill="#000">1 Dec 2020</text>
<text x="1080" y="931" font-size="8.9" fill="#000">10 Dec 2020</text>
<text x="1144" y="931" font-size="8.9" fill="#000">20 Dec 2020</text>
<text x="1208" y="931" font-size="8.9" fill="#000">30 Dec 2020</text>
<text x="1272" y="931" font-size="8.9" fill="#000">10 Jan 2021</text>
<text x="1336" y="931" font-size="8.9" fill="#000">19 Jan 2021</text>
<text x="1400" y="931" font-size="8.9" fill="#000">28 Jan 2021</text>
<path d="M0,27 L3,24 L3,27 Z" fill="#000"/>
<text x="7" y="28.6" font-size="9.4" fill="#000" textLength="210.5" lengthAdjust="spacingAndGlyphs">USDJPY-,Daily&#160;&#160;104.877 105.166 104.821 104.967</text>
<text x="-1" y="585" font-size="9.4" fill="#000" textLength="125" lengthAdjust="spacingAndGlyphs">MACD(12,26,9) 0.2816 0.1149</text>
<text x="-2" y="757" font-size="9.4" fill="#000" textLength="66" lengthAdjust="spacingAndGlyphs">RSI(14) 68.8721</text>
<path d="M1440,18 L1449,18 L1444.5,23 Z" fill="#c0c0c0"/>
<rect x="92.5" y="387.5" width="74" height="24" fill="#fff" stroke="#ff0000" stroke-width="1" shape-rendering="crispEdges"/>
<text x="129.5" y="407.8" font-size="22.5" fill="#ff0000" text-anchor="middle" textLength="70" lengthAdjust="spacingAndGlyphs">104.186</text>
<rect x="167" y="399" width="10" height="1" fill="#ff0000"/>
<rect x="457.5" y="408.5" width="61" height="18" fill="#fff" stroke="#ff0000" stroke-width="1" shape-rendering="crispEdges"/>
<text x="488.0" y="423.8" font-size="16.5" fill="#ff0000" text-anchor="middle" textLength="57" lengthAdjust="spacingAndGlyphs">104.002</text>
<rect x="519" y="417" width="9" height="1" fill="#ff0000"/>
<rect x="777.5" y="491.5" width="61" height="18" fill="#fff" stroke="#ff0000" stroke-width="1" shape-rendering="crispEdges"/>
<text x="808.0" y="506.8" font-size="16.5" fill="#ff0000" text-anchor="middle" textLength="57" lengthAdjust="spacingAndGlyphs">103.156</text>
<rect x="839" y="500" width="9" height="1" fill="#ff0000"/><rect x="848" y="495" width="1" height="6" fill="#ff0000"/>
<rect x="1057.5" y="518.5" width="61" height="18" fill="#fff" stroke="#ff0000" stroke-width="1" shape-rendering="crispEdges"/>
<text x="1088.0" y="533.8" font-size="16.5" fill="#ff0000" text-anchor="middle" textLength="57" lengthAdjust="spacingAndGlyphs">102.880</text>
<rect x="1119" y="527" width="9" height="1" fill="#ff0000"/>
<rect x="1177.5" y="547.5" width="61" height="18" fill="#fff" stroke="#ff0000" stroke-width="1" shape-rendering="crispEdges"/>
<text x="1208.0" y="562.8" font-size="16.5" fill="#ff0000" text-anchor="middle" textLength="57" lengthAdjust="spacingAndGlyphs">102.587</text>
<rect x="1239" y="556" width="9" height="1" fill="#ff0000"/>
<rect x="1353.5" y="308.5" width="61" height="17" fill="#fff" stroke="#ff0000" stroke-width="1" shape-rendering="crispEdges"/>
<text x="1384.0" y="322.8" font-size="16.5" fill="#ff0000" text-anchor="middle" textLength="57" lengthAdjust="spacingAndGlyphs">105.027</text>
<rect x="1415" y="316" width="9" height="1" fill="#ff0000"/>
<rect x="1315.5" y="339.5" width="73" height="24" fill="#fff" stroke="#ff0000" stroke-width="1" shape-rendering="crispEdges"/>
<text x="1352.0" y="359.8" font-size="22.5" fill="#ff0000" text-anchor="middle" textLength="70" lengthAdjust="spacingAndGlyphs">104.672</text>
<rect x="1305" y="351" width="10" height="1" fill="#ff0000"/>
<rect x="1375" y="333" width="102" height="7" fill="#00e600"/>
<g stroke="#ff0000" stroke-width="3.1" fill="none" stroke-linecap="butt" shape-rendering="geometricPrecision">
<line x1="1241.3" y1="549" x2="1285" y2="395"/>
<line x1="1287" y1="392" x2="1364" y2="471"/>
<line x1="1367.5" y1="478" x2="1453.5" y2="305"/>
</g>
<g fill="#ff0000" shape-rendering="geometricPrecision">
<path d="M1286.5,388 L1278.3,398.7 L1283,398.3 L1287.7,402.2 L1289.8,396 Z"/>
<path d="M1367.8,480.5 L1356.8,471.6 L1360.8,470.2 L1363.2,464.8 L1368.7,472.5 Z"/>
<path d="M1456.6,297 L1447.5,305.6 L1452,307 L1455.5,311.3 L1458.3,304.5 Z"/>
</g>
<g fill="none" stroke="#00f000" stroke-width="1.3" shape-rendering="geometricPrecision">
<path transform="translate(1490.5,338)" d="M9,1 L4,6 M6,3 L14,3 L5,11 M7,5 L10,7 M10,9 L3,15 M7,11 L16,11 L4,19 M9,13 L12,15"/>
<path transform="translate(1511.8,338)" d="M10,0 L11,2 M2,5 L2,3 L18,3 L18,5 M7,5 L4,8 M12,5 L16,8 M5,10 L15,10 M10,10 L10,17 M2,17 L18,17"/>
<path transform="translate(1533.1,338)" d="M1,4 L8,4 M5,1 L2,11 L8,10 M5,7 L5,19 M1,15 L8,14 M10,4 L18,4 M9,8 L19,8 M14,1 L12,12 L17,12 L14,16 M13,15 L17,18"/>
<path transform="translate(1554.4,338)" d="M1,6 L8,6 M5,1 L5,18 L3,16 M1,13 L8,10 M17,1 L10,3 L10,10 L8,18 M10,8 L19,8 M15,8 L15,19"/>
<path transform="translate(1575.7,338)" d="M9,0 L9,8 M9,4 L15,4 M4,8 L4,13 L15,13 L15,8 Z M3,15 L2,18 M7,15 L8,18 M11,15 L12,18 M16,15 L18,18"/>
</g>
</svg>
<div class="panel" style="left:0;top:37px;width:47px;height:24px;background:linear-gradient(#fa5a5a,#dc3232);"></div>
<div class="panel" style="left:0;top:60px;width:43px;height:1px;background:#a80c0c;"></div>
<div class="panel" style="left:7px;top:41px;color:#fff;font-size:12.5px;transform:scaleX(0.86);transform-origin:0 0;">SELL</div>
<div class="panel" style="left:47px;top:37px;width:116px;height:24px;background:#fff;"></div>
<div class="panel" style="left:49px;top:37px;width:111px;height:21px;background:#a8a8b0;"></div>
<div class="panel" style="left:50px;top:38px;width:20px;height:19px;background:linear-gradient(#f2f2f2,#e4e4e4 45%,#d4d4d4 50%,#d8d8d8);"></div>
<div class="panel" style="left:71px;top:38px;width:67px;height:19px;background:#fff;"></div>
<div class="panel" style="left:139px;top:38px;width:20px;height:19px;background:linear-gradient(#f2f2f2,#e4e4e4 45%,#d4d4d4 50%,#d8d8d8);"></div>
<div class="panel" style="left:56.5px;top:46px;width:0;height:0;border-left:3.5px solid transparent;border-right:3.5px solid transparent;border-top:3.5px solid #5060c8;"></div>
<div class="panel" style="left:145.5px;top:45px;width:0;height:0;border-left:3.5px solid transparent;border-right:3.5px solid transparent;border-bottom:3.5px solid #5060c8;"></div>
<div class="panel" style="left:71px;top:41px;width:64px;text-align:right;color:#000;font-size:12.5px;">1.00</div>
<div class="panel" style="left:163px;top:37px;width:51px;height:24px;background:linear-gradient(#fa5a5a,#dc3232);"></div>
<div class="panel" style="left:166px;top:60px;width:44px;height:1px;background:#a80c0c;"></div>
<div class="panel" style="left:176px;top:41px;color:#fff;font-size:12.5px;transform:scaleX(0.9);transform-origin:0 0;">BUY</div>
<div class="panel" style="left:0;top:61px;width:104px;height:40px;background:linear-gradient(#d82c2c,#b00606);"></div>
<div class="panel" style="left:106px;top:61px;width:108px;height:40px;background:linear-gradient(#d82c2c,#b00606);"></div>
<div class="panel" style="left:18px;top:81px;color:#fff;font-size:12.5px;font-weight:bold;">104</div>
<div class="panel" style="left:42.5px;top:58.5px;color:#fff;font-size:35.5px;font-family:'Liberation Serif',serif;">96</div>
<div class="panel" style="left:82px;top:64.5px;color:#fff;font-size:11.5px;font-weight:bold;">7</div>
<div class="panel" style="left:129px;top:81px;color:#fff;font-size:12.5px;font-weight:bold;">105</div>
<div class="panel" style="left:152.5px;top:58.5px;color:#fff;font-size:35.5px;font-family:'Liberation Serif',serif;">00</div>
<div class="panel" style="left:192.5px;top:64.5px;color:#fff;font-size:11.5px;font-weight:bold;">1</div>
<svg class="tbsvg" width="1729" height="13" viewBox="0 0 1729 13" style="position:absolute;left:0;top:0" font-family="Liberation Sans, sans-serif">
<!-- window icon -->
<rect x="-3" y="-2" width="8" height="9" fill="#fff" stroke="#3a6fd0" stroke-width="1.2"/>
<rect x="-3" y="1" width="8" height="1" fill="#9fb9ea"/><rect x="-3" y="3.5" width="8" height="1" fill="#9fb9ea"/>
<!-- magnifier -->
<rect x="18.5" y="-2" width="9" height="8" fill="#fff" stroke="#b8a888"/>
<circle cx="25" cy="1.5" r="4.5" fill="#cfe3f7" stroke="#5a8ed8" stroke-width="1.2"/>
<line x1="29" y1="5.5" x2="35" y2="10.5" stroke="#c9a227" stroke-width="2.2"/>
<rect x="43" y="0" width="1" height="11" fill="#a0a0a0"/>
<!-- new order -->
<rect x="53.5" y="-2" width="8" height="8" fill="#fff" stroke="#707070"/>
<path d="M61.5,-1 h3 v4 h4 v3 h-4 v4.5 h-3 v-4.5 h-4 v-3 h4 z" fill="#22c022" stroke="#109010" stroke-width="0.6"/>
<g fill="#000">
<rect x="72" y="-1" width="7" height="2"/><rect x="72.5" y="2" width="1.2" height="1.5"/><rect x="75" y="2" width="1.2" height="3"/><rect x="73" y="4.2" width="2.5" height="1"/><rect x="78" y="-1" width="1" height="6"/><rect x="81.5" y="-1" width="1" height="6"/>
<rect x="85" y="-1" width="1" height="6"/><path d="M86,4.5 L88.5,2 L89.2,2.7 L86.7,5.2 Z"/><rect x="92.3" y="-1" width="1" height="5.5"/><rect x="89.5" y="4.3" width="3.5" height="1"/>
<rect x="97" y="-1" width="9.5" height="1.8"/><rect x="96" y="2.3" width="12" height="1"/><rect x="101.3" y="0" width="1.2" height="5"/>
</g>
<!-- gold book -->
<path d="M120,4 L127,-2 L136,3 L129,9 Z" fill="#d8b030" stroke="#a07818" stroke-width="0.8"/>
<path d="M121,5.5 L129,10 L136,4" fill="none" stroke="#8a6410" stroke-width="0.8"/>
<!-- cloud -->
<path d="M149,7.5 C147,7 148,3 151,3.5 C151,0 157,-1 158,2 C161,1 164,3 163,5.5 C165,6 164,8.5 162,8.5 L150,8.5 Z" fill="#e8eef8" stroke="#6d82b0" stroke-width="1"/>
<rect x="153" y="-2" width="5" height="3" fill="#3b88e0"/>
<!-- signal -->
<path d="M178,-1 A8,8 0 0 0 184,8.5" fill="none" stroke="#5b8ed6" stroke-width="1"/>
<path d="M181,-1 A5,5 0 0 0 184,5" fill="none" stroke="#5b8ed6" stroke-width="1"/>
<path d="M184,9 A8,9 0 0 0 192,0 L184,0 Z" fill="#4aa84a"/>
<!-- auto trading -->
<path d="M203,1 L208,-2 L218,-2 L217,6 L210,9 Z" fill="#e8d24a" stroke="#b09a20" stroke-width="0.8"/>
<circle cx="215.5" cy="4.5" r="4" fill="#d42020"/>
<rect x="213.8" y="2.8" width="3.4" height="3.4" fill="#fff"/>
<g fill="#000">
<rect x="225" y="-1" width="1" height="5.5"/><rect x="234" y="-1" width="1" height="5.5"/><rect x="225" y="-0.5" width="10" height="1.2"/><rect x="225" y="2.8" width="10" height="1.1"/>
<path d="M237,4 L239.5,0.5 L240.3,1.1 L237.8,4.6 Z"/><rect x="241.8" y="-1" width="1" height="5.5"/><rect x="240" y="4.2" width="4" height="1"/><rect x="243.5" y="0" width="1" height="4.5"/>
<path d="M247.5,4.3 L251,2.8 L251.4,3.6 L247.9,5.1 Z"/><path d="M253,2.8 L258.8,4.6 L258.5,5.3 L252.7,3.5 Z"/><rect x="249" y="-1" width="1" height="1.5"/><rect x="255" y="-1" width="1" height="1.5"/>
<path d="M260,4.5 L263,2 L263.7,2.6 L260.7,5.1 Z"/><path d="M263.5,4.5 L266.5,2 L267.2,2.6 L264.2,5.1 Z"/><path d="M261,1.5 L264,-1 L264.7,-0.4 L261.7,2.1 Z"/><rect x="270" y="-1" width="1" height="5.5"/><rect x="266" y="4.3" width="5" height="1"/>
</g>
<rect x="279" y="0" width="1" height="11" fill="#a0a0a0"/>
<g fill="#9a9a9a"><rect x="283" y="1" width="3" height="1"/><rect x="283" y="3.5" width="3" height="1"/><rect x="283" y="6" width="3" height="1"/><rect x="283" y="8.5" width="3" height="1"/></g>
<!-- chart type icons -->
<g stroke="#505050" stroke-width="1" fill="none">
<path d="M297.5,-1 V8.5 M295,6.5 H308 M306,5 L308.5,6.5 L306,8"/>
<path d="M325.5,-1 V8.5 M323,6.5 H336 M334,5 L336.5,6.5 L334,8"/>
<path d="M353.5,-1 V8.5 M351,6.5 H364 M362,5 L364.5,6.5 L362,8"/>
</g>
<rect x="318" y="0" width="24" height="11" fill="#f6f6f6" opacity="0.6"/>
<rect x="317" y="0" width="1" height="11" fill="#a0a0a0"/>
<path d="M302.5,-1 V3.5 H301" stroke="#1a9a1a" stroke-width="1.2" fill="none"/>
<rect x="329" y="-1" width="5" height="3.5" fill="#1ec01e"/><rect x="331" y="2" width="1" height="2.5" fill="#1a9a1a"/>
<path d="M355,3.5 L358,-1 M361,-1 L364,2" stroke="#1a9a1a" stroke-width="1.2" fill="none"/>
<rect x="374" y="0" width="1" height="11" fill="#a0a0a0"/>
<!-- zoom -->
<circle cx="387" cy="0" r="4.5" fill="#d8eefc" stroke="#4a86d8" stroke-width="1.1"/>
<line x1="391" y1="3" x2="397.5" y2="8" stroke="#c9a227" stroke-width="2"/>
<rect x="386" y="-1" width="2" height="3" fill="#4a86d8"/>
<circle cx="416" cy="0" r="4.5" fill="#d8eefc" stroke="#4a86d8" stroke-width="1.1"/>
<line x1="420" y1="3" x2="426.5" y2="8" stroke="#c9a227" stroke-width="2"/>
<!-- tile -->
<rect x="439" y="0" width="8" height="8.5" fill="#3a70d8"/><rect x="447" y="0" width="8" height="8.5" fill="#40a040"/>
<rect x="440" y="2" width="6" height="5" fill="#fff"/><rect x="448" y="2" width="6" height="5" fill="#fff"/>
<rect x="441" y="4" width="4" height="1" fill="#3a70d8"/><rect x="449" y="4" width="4" height="1" fill="#40a040"/>
<rect x="464" y="0" width="1" height="11" fill="#a0a0a0"/>
<rect x="469" y="0" width="1" height="11" fill="#a0a0a0"/>
<rect x="470" y="0" width="24" height="11" fill="#f6f6f6" opacity="0.6"/>
<rect x="497" y="0" width="1" height="11" fill="#a0a0a0"/>
<rect x="498" y="0" width="24" height="11" fill="#f6f6f6" opacity="0.6"/>
<g stroke="#505050" stroke-width="1" fill="none">
<path d="M477.5,-1 V8.5 M475,6.5 H488 M486,5 L488.5,6.5 L486,8"/>
<path d="M505.5,-1 V8.5 M503,6.5 H516 M514,5 L516.5,6.5 L514,8"/>
</g>
<path d="M482,-1 L487,-1 L482,3.5 Z" fill="#22b022"/>
<rect x="510.5" y="-1" width="1" height="5" fill="#2060c0"/><path d="M511.5,-1 L515,-1 L511.5,2 Z" fill="#e04010"/>
<rect x="526" y="0" width="1" height="11" fill="#a0a0a0"/>
<!-- indicators -->
<rect x="536.5" y="-2" width="8" height="8" fill="#fff" stroke="#707070"/>
<path d="M545,-1 h3 v3.5 h4 v3 h-4 v5 h-3 v-5 h-4 v-3 h4 z" fill="#22c022" stroke="#109010" stroke-width="0.6"/>
<path d="M557,0 L564,0 L560.5,3 Z" fill="#000"/>
<!-- clock -->
<circle cx="582" cy="1.5" r="6.5" fill="#f4f8fc" stroke="#1a5cc8" stroke-width="1.8"/>
<rect x="581" y="-1" width="2" height="2" fill="#333"/>
<path d="M597,0 L603,0 L600,3 Z" fill="#000"/>
<!-- template -->
<rect x="613.5" y="-2" width="15" height="9" fill="#fff" stroke="#3a70d8"/>
<rect x="614" y="1.5" width="14" height="1" fill="#3a70d8"/><rect x="615" y="-1" width="3" height="2" fill="#b02020"/>
<path d="M616,5 L619,4 L621,5 L624,3 L627,5" stroke="#22a022" fill="none"/>
<path d="M636,0 L642,0 L639,3 Z" fill="#000"/>
<rect x="647" y="0" width="1" height="11" fill="#a0a0a0"/>
<g fill="#9a9a9a"><rect x="651" y="1" width="3" height="1"/><rect x="651" y="3.5" width="3" height="1"/><rect x="651" y="6" width="3" height="1"/><rect x="651" y="8.5" width="3" height="1"/></g>
<rect x="657" y="0" width="1" height="11" fill="#a0a0a0"/>
<rect x="658" y="0" width="24" height="11" fill="#f6f6f6" opacity="0.6"/>
<path d="M665,-1 L672,-1 L670,1.5 L673,6.5 L671.5,7.5 L668.5,3 L666.5,5 Z" fill="#484848"/>
<rect x="690" y="1" width="15" height="1" fill="#404040"/><rect x="697" y="1" width="1" height="7.5" fill="#404040"/>
<rect x="714" y="0" width="1" height="11" fill="#a0a0a0"/>
<rect x="731" y="-1" width="1" height="8.5" fill="#404040"/>
<rect x="754" y="1" width="12" height="1" fill="#404040"/>
<line x1="782" y1="8" x2="790" y2="0" stroke="#404040" stroke-width="1"/>
<path d="M808,4 L813,-1 M810,6 L816,0 M812,7.5 L820,0 M809,1 L813,7" stroke="#404040" fill="none"/>
<text x="818.5" y="9.5" font-size="6" font-weight="bold" fill="#404040">E</text>
<path d="M837,1.5 H850 M837,5 H846" stroke="#404040" stroke-dasharray="1,1" fill="none"/>
<text x="846.5" y="9.5" font-size="6" font-weight="bold" fill="#404040">F</text>
<text x="868" y="5.5" font-size="9" font-weight="bold" fill="#484848">A</text>
<rect x="894.5" y="-1" width="11" height="8.5" fill="none" stroke="#606060" stroke-dasharray="1,1"/>
<rect x="899.5" y="-1" width="1.5" height="5" fill="#404040"/>
<path d="M923,2 L926,5 L932,-1" stroke="#404040" stroke-width="1.3" fill="none"/>
<path d="M928,4 L935,4 L931.5,8 Z" fill="#404040"/>
<path d="M941,0 L947,0 L944,3 Z" fill="#000"/>
<rect x="953" y="0" width="1" height="11" fill="#a0a0a0"/>
<g fill="#9a9a9a"><rect x="957" y="1" width="3" height="1"/><rect x="957" y="3.5" width="3" height="1"/><rect x="957" y="6" width="3" height="1"/><rect x="957" y="8.5" width="3" height="1"/></g>
<rect x="1132" y="0" width="25" height="11" fill="#f6f6f6" opacity="0.5"/>
<g font-size="10" fill="#3a3a3a">
<text x="969" y="5" textLength="12" lengthAdjust="spacingAndGlyphs">M1</text>
<text x="997" y="5" textLength="12" lengthAdjust="spacingAndGlyphs">M5</text>
<text x="1022" y="5" textLength="18" lengthAdjust="spacingAndGlyphs">M15</text>
<text x="1050" y="5" textLength="18" lengthAdjust="spacingAndGlyphs">M30</text>
<text x="1081" y="5" textLength="12" lengthAdjust="spacingAndGlyphs">H1</text>
<text x="1108" y="5" textLength="13" lengthAdjust="spacingAndGlyphs">H4</text>
<text x="1137" y="5" textLength="13" lengthAdjust="spacingAndGlyphs">D1</text>
<text x="1166" y="5" textLength="14" lengthAdjust="spacingAndGlyphs">W1</text>
<text x="1191" y="5" textLength="16" lengthAdjust="spacingAndGlyphs">MN</text>
</g>
<rect x="1131" y="0" width="1" height="11" fill="#a0a0a0"/>
<rect x="1214" y="0" width="1" height="11" fill="#a0a0a0"/>
<!-- search -->
<circle cx="1684.5" cy="-0.5" r="3" fill="none" stroke="#2a62d0" stroke-width="1.4"/>
<line x1="1682" y1="2" x2="1677.5" y2="6.5" stroke="#2a62d0" stroke-width="2.2"/>
<!-- chat + badge -->
<path d="M1703,-1 C1700,2 1701,6 1704,7 L1704.5,9.5 L1706.5,7.2 L1712,7 L1712,-1 Z" fill="#dcdce4" stroke="#a0a0a8" stroke-width="0.8"/>
<circle cx="1715.4" cy="-1.2" r="8" fill="#d92a1a"/>
<rect x="1714.8" y="-2" width="1.4" height="4.5" fill="#fff"/><rect x="1713" y="2.2" width="5" height="1" fill="#fff"/>
</svg>

</body></html>
